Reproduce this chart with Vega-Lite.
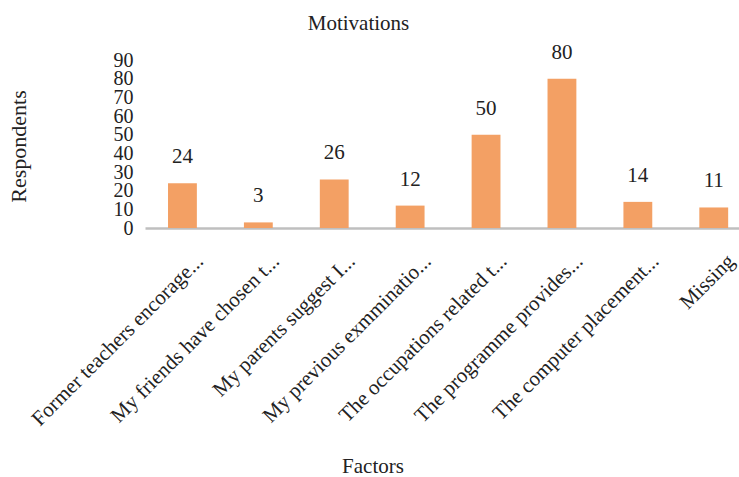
{
  "$schema": "https://vega.github.io/schema/vega-lite/v6.json",
  "width": 594,
  "height": 168,
  "autosize": {"type": "none"},
  "padding": {"left": 145, "top": 60, "right": 0, "bottom": 249},
  "background": "white",
  "title": {"text": "Motivations", "font": "Liberation Serif", "fontSize": 21, "fontWeight": "normal", "color": "#222222", "anchor": "middle", "dx": -83.5, "dy": 13, "baseline": "alphabetic", "offset": 4},
  "data": {"values": [
    {"factor": "Former teachers encorage...", "respondents": 24},
    {"factor": "My friends have chosen t...", "respondents": 3},
    {"factor": "My parents suggest I...", "respondents": 26},
    {"factor": "My previous exmminatio...", "respondents": 12},
    {"factor": "The occupations related t...", "respondents": 50},
    {"factor": "The programme provides...", "respondents": 80},
    {"factor": "The computer placement...", "respondents": 14},
    {"factor": "Missing", "respondents": 11}
  ]},
  "encoding": {
    "x": {
      "field": "factor", "type": "nominal", "sort": null,
      "scale": {"paddingInner": 0.62, "paddingOuter": 0.223, "align": 0.68},
      "axis": {
        "title": "Factors", "titleFont": "Liberation Serif", "titleFontSize": 21, "titleFontWeight": "normal", "titleColor": "#222222",
        "titleX": 227.5, "titleY": 244, "titleAlign": "center", "titleBaseline": "alphabetic", "titleAngle": 0,
        "labelFont": "Liberation Serif", "labelFontSize": 21, "labelColor": "#222222", "labelAngle": -45,
        "labelAlign": "right", "labelBaseline": "alphabetic", "labelPadding": 34, "labelOffset": 22, "labelLimit": 0,
        "labelOverlap": false,
        "ticks": false, "tickSize": 0, "domainColor": "#BFBFBF", "domainWidth": 2.5, "grid": false
      }
    },
    "y": {
      "field": "respondents", "type": "quantitative",
      "scale": {"domain": [0, 90], "nice": false},
      "axis": {
        "title": "Respondents", "titleFont": "Liberation Serif", "titleFontSize": 22, "titleFontWeight": "normal", "titleColor": "#222222",
        "titleX": -120, "titleY": 86, "titleAngle": -90, "titleAlign": "center", "titleBaseline": "alphabetic",
        "values": [0, 10, 20, 30, 40, 50, 60, 70, 80, 90],
        "labelFont": "Liberation Serif", "labelFontSize": 20, "labelColor": "#222222", "labelPadding": 12,
        "labelOverlap": false, "labelBaseline": "middle",
        "ticks": false, "domain": false, "grid": false
      }
    }
  },
  "layer": [
    {"mark": {"type": "bar", "color": "#F3A064"}},
    {"mark": {"type": "text", "dy": -20, "baseline": "alphabetic", "font": "Liberation Serif", "fontSize": 21, "color": "#222222"},
     "encoding": {"text": {"field": "respondents", "type": "quantitative"}}}
  ],
  "config": {"view": {"stroke": null}}
}
